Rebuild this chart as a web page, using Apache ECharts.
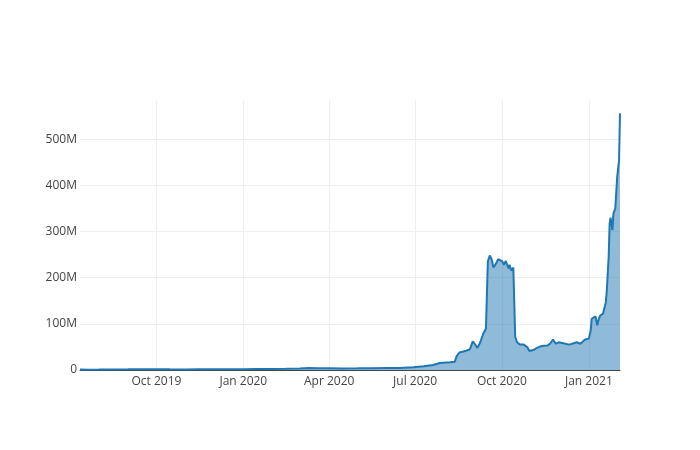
<!DOCTYPE html>
<html>
<head>
<meta charset="utf-8">
<script src="https://cdn.jsdelivr.net/npm/echarts@6/dist/echarts.min.js"></script>
<style>html,body{margin:0;padding:0;background:#fff}#c{width:700px;height:450px}</style>
</head>
<body>
<div id="c"></div>
<script>
const dates = [
"2019-07-12","2019-07-20","2019-08-01","2019-08-15","2019-09-01","2019-09-15","2019-10-01","2019-10-15",
"2019-11-01","2019-11-15","2019-12-01","2019-12-15","2020-01-01","2020-01-15","2020-02-01","2020-02-15",
"2020-03-01","2020-03-10","2020-03-20","2020-04-01","2020-04-15","2020-05-01","2020-05-15","2020-06-01",
"2020-06-14","2020-06-29","2020-07-10","2020-07-20","2020-07-27","2020-08-07","2020-08-12","2020-08-14",
"2020-08-17","2020-08-23","2020-08-28","2020-08-31","2020-09-02","2020-09-05","2020-09-08","2020-09-11",
"2020-09-14","2020-09-16","2020-09-18","2020-09-20","2020-09-22","2020-09-25","2020-09-27","2020-10-01",
"2020-10-03","2020-10-05","2020-10-08","2020-10-09","2020-10-11","2020-10-13","2020-10-15","2020-10-17",
"2020-10-20","2020-10-24","2020-10-28","2020-10-30","2020-11-04","2020-11-07","2020-11-12","2020-11-18",
"2020-11-21","2020-11-24","2020-11-27","2020-11-30","2020-12-05","2020-12-11","2020-12-16","2020-12-19",
"2020-12-23","2020-12-28","2021-01-01","2021-01-03","2021-01-04","2021-01-08","2021-01-10","2021-01-11",
"2021-01-13","2021-01-16","2021-01-19","2021-01-20","2021-01-22","2021-01-23","2021-01-24","2021-01-26",
"2021-01-27","2021-01-29","2021-01-31","2021-02-02","2021-02-03"
];
const values = [
1.0,0.8,0.9,1.2,1.5,1.8,1.6,1.4,
1.3,1.5,1.4,1.6,1.8,2.0,2.2,2.5,
3.5,4.5,4.0,3.8,3.5,3.6,3.8,4.2,
4.5,6,8,11,15,17,18,30,
38,41,45,62,57,48,60,78,
90,235,248,240,222,232,240,236,
228,236,220,228,215,222,72,60,
55,55,49,41,44,48,52,53,
57,66,57,60,58,55,58,60,
57,66,68,86,111,116,97,107,
118,122,147,172,245,317,330,303,
339,350,418,455,556
];
const tickDates = ["2019-10-01","2020-01-01","2020-04-01","2020-07-01","2020-10-01","2021-01-01"];
const tickLabels = ["Oct 2019","Jan 2020","Apr 2020","Jul 2020","Oct 2020","Jan 2021"];
const yTicks = [0,100,200,300,400,500];
const yTickLabels = ["0","100M","200M","300M","400M","500M"];

const ts = d => Date.parse(d + "T00:00:00Z");
const tickTs = tickDates.map(ts);
const data = dates.map((d,i)=>[ts(d), values[i]*1e6]);
const font = '"Open Sans", sans-serif';

const chart = echarts.init(document.getElementById('c'));
chart.setOption({
  animation:false,
  grid:{left:80,right:80,top:100,bottom:80},
  xAxis:{
    type:'value',
    min:ts(dates[0]), max:ts(dates[dates.length-1]),
    axisLine:{show:true,lineStyle:{color:'#444',width:1}},
    axisTick:{show:false,customValues:tickTs},
    axisLabel:{customValues:tickTs,margin:6,color:'#444',fontSize:12,fontFamily:font,
      formatter:v=>{const i=tickTs.indexOf(v);return i>=0?tickLabels[i]:'';}},
    splitLine:{show:true,lineStyle:{color:'#eee',width:1}}
  },
  yAxis:{
    type:'value',min:0,max:585e6,interval:100e6,
    axisLine:{show:false},axisTick:{show:false},
    axisLabel:{margin:3,color:'#444',fontSize:12,fontFamily:font,showMaxLabel:false,
      formatter:v=>{const i=yTicks.indexOf(Math.round(v/1e6));return i>=0?yTickLabels[i]:'';}},
    splitLine:{show:false}
  },
  series:[{
    type:'line',data:[[ts(dates[0]),0]],showSymbol:false,z:1,silent:true,
    lineStyle:{opacity:0},
    markLine:{silent:true,z:0,zlevel:0,symbol:'none',label:{show:false},animation:false,
      lineStyle:{color:'#eee',width:1,type:'solid'},
      data:yTicks.slice(1).map(v=>({yAxis:v*1e6}))}
  },{
    type:'line',data:data,showSymbol:false,z:3,
    lineStyle:{color:'#1f77b4',width:2},
    itemStyle:{color:'#1f77b4'},
    areaStyle:{color:'rgba(31,119,180,0.5)',opacity:1,origin:'start'}
  }]
});
</script>
</body>
</html>
